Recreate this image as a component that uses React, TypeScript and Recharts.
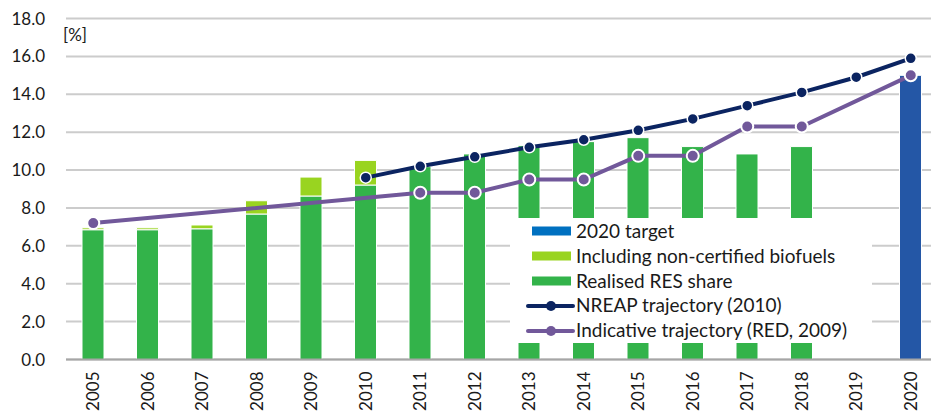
import { ComposedChart, Bar, Line, XAxis, YAxis, CartesianGrid, Legend } from "recharts";

const years = ["2005", "2006", "2007", "2008", "2009", "2010", "2011", "2012", "2013", "2014", "2015", "2016", "2017", "2018", "2019", "2020"];
const realised = [6.85, 6.85, 6.9, 7.68, 8.63, 9.21, 10.18, 10.85, 11.29, 11.5, 11.71, 11.24, 10.85, 11.24, null, null];
const nonCertified = [0.1, 0.1, 0.2, 0.7, 1.0, 1.3, null, null, null, null, null, null, null, null, null, null];
const target = [null, null, null, null, null, null, null, null, null, null, null, null, null, null, null, 15.0];
const nreap = [null, null, null, null, null, 9.6, 10.2, 10.7, 11.2, 11.6, 12.1, 12.7, 13.4, 14.1, 14.9, 15.9];
const indicative = [7.2, null, null, null, null, null, 8.8, 8.8, 9.5, 9.5, 10.75, 10.75, 12.3, 12.3, null, 15.0];
const yTicks = [0, 2, 4, 6, 8, 10, 12, 14, 16, 18];

const data = years.map((year, i) => ({
  year,
  realised: realised[i],
  nonCertified: nonCertified[i],
  target: target[i],
  nreap: nreap[i],
  indicative: indicative[i],
}));

const font = "Lato, 'Open Sans', sans-serif";
const textColor = "#1a1a1a";
const green = "#33b34a";
const lightGreen = "#99d420";
const navy = "#0b2461";
const purple = "#71589a";

const legendItems = [
  { label: "2020 target", color: "#0070c0", kind: "bar" },
  { label: "Including non-certified biofuels", color: lightGreen, kind: "bar" },
  { label: "Realised RES share", color: green, kind: "bar" },
  { label: "NREAP trajectory (2010)", color: navy, kind: "line" },
  { label: "Indicative trajectory (RED, 2009)", color: purple, kind: "line" },
];

function LegendBox() {
  return (
    <div style={{ paddingTop: 1, fontFamily: font, fontSize: 19, color: textColor }}>
      {legendItems.map((it) => (
        <div key={it.label} style={{ display: "flex", alignItems: "center", height: 24.8, lineHeight: "24.8px" }}>
          <svg width={66} height={14} style={{ flex: "none" }}>
            {it.kind === "bar" ? (
              <rect x={22} y={2.5} width={39} height={9} fill={it.color} />
            ) : (
              <>
                <line x1={18} y1={7} x2={63} y2={7} stroke={it.color} strokeWidth={4} strokeLinecap="round" />
                <circle cx={41} cy={7} r={5} fill={it.color} />
              </>
            )}
          </svg>
          <span style={{ whiteSpace: "nowrap" }}>{it.label}</span>
        </div>
      ))}
    </div>
  );
}

function YearTick({ x, y, payload }: any) {
  return (
    <text
      x={x}
      y={y + 4}
      dy="0.35em"
      transform={`rotate(-90 ${x} ${y + 4})`}
      textAnchor="end"
      fill={textColor}
      fontSize={17}
      fontFamily={font}
    >
      {payload.value}
    </text>
  );
}

export default function App() {
  return (
    <div style={{ position: "absolute", left: 0, top: 0, width: 931, height: 415, background: "#fff" }}>
      <ComposedChart
        width={931}
        height={415}
        data={data}
        margin={{ top: 18.5, right: -7, left: 0, bottom: 0 }}
        barCategoryGap={0}
      >
        <CartesianGrid horizontal vertical={false} stroke="#cccccc" strokeWidth={2} />
        <XAxis
          dataKey="year"
          height={55.5}
          tick={<YearTick />}
          tickLine={false}
          axisLine={{ stroke: "#a6a6a6", strokeWidth: 2 }}
          interval={0}
        />
        <YAxis
          width={66}
          domain={[0, 18]}
          ticks={yTicks}
          tickFormatter={(v) => v.toFixed(1)}
          tick={{ fill: textColor, fontSize: 17, fontFamily: font }}
          tickLine={false}
          axisLine={false}
          tickMargin={15}
        />
        <Legend
          layout="horizontal"
          verticalAlign="middle"
          align="center"
          content={<LegendBox />}
          wrapperStyle={{ position: "absolute", left: 510, top: 218, width: 362, height: 125, background: "#fff" }}
        />
        <Bar dataKey="realised" stackId="a" fill={green} stroke="#fff" strokeWidth={1} barSize={22} isAnimationActive={false} />
        <Bar dataKey="nonCertified" stackId="a" fill={lightGreen} stroke="#fff" strokeWidth={1} barSize={22} isAnimationActive={false} />
        <Bar dataKey="target" stackId="a" fill="#2457a6" stroke="#fff" strokeWidth={1} barSize={22} isAnimationActive={false} />
        <Line
          dataKey="indicative"
          stroke={purple}
          strokeWidth={4}
          connectNulls
          dot={{ r: 6, fill: purple, stroke: "#fff", strokeWidth: 2 }}
          activeDot={false}
          isAnimationActive={false}
        />
        <Line
          dataKey="nreap"
          stroke={navy}
          strokeWidth={4}
          connectNulls
          dot={{ r: 5.5, fill: navy, stroke: "#fff", strokeWidth: 1.5 }}
          activeDot={false}
          isAnimationActive={false}
        />
      </ComposedChart>
      <div style={{ position: "absolute", left: 63, top: 24, fontFamily: font, fontSize: 17, color: textColor }}>[%]</div>
    </div>
  );
}
